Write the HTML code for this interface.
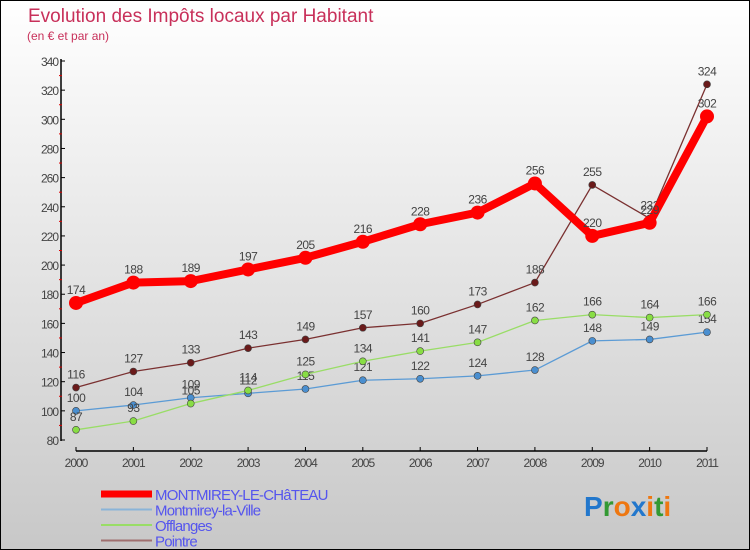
<!DOCTYPE html>
<html><head><meta charset="utf-8"><style>
body{margin:0}
#c{width:748px;height:548px;border:1px solid #000;background:linear-gradient(#fff,#c8c8c8);position:relative;font-family:"Liberation Sans",sans-serif;overflow:hidden}
</style></head><body>
<div id="c">
<svg id="s" width="748" height="548"></svg>
</div>
<script>
const years=[2000,2001,2002,2003,2004,2005,2006,2007,2008,2009,2010,2011];
const montmireyChateau=[174,188,189,197,205,216,228,236,256,220,229,302];
const montmireyVille=[100,104,109,112,115,121,122,124,128,148,149,154];
const offlanges=[87,93,105,114,125,134,141,147,162,166,164,166];
const pointre=[116,127,133,143,149,157,160,173,188,255,232,324];
const yTicks=[80,100,120,140,160,180,200,220,240,260,280,300,320,340];
const NS="http://www.w3.org/2000/svg";
const s=document.getElementById('s');
const X=i=>75+i*(706-75)/11;
const Y=v=>439-(v-80)*(439-60)/260;
function el(t,a,txt){const e=document.createElementNS(NS,t);for(const k in a)e.setAttribute(k,a[k]);if(txt!==undefined)e.textContent=txt;s.appendChild(e);return e;}
let e;
e=el('text',{x:27,y:21,fill:'#c8305a','font-size':19},'Evolution des Impôts locaux par Habitant');

e=el('text',{x:26,y:39,fill:'#c8305a','font-size':12},'(en € et par an)');

// axes
e=el('line',{x1:60,y1:58,x2:60,y2:440,stroke:'#000','stroke-width':1.5});

e=el('line',{x1:75,y1:450,x2:706,y2:450,stroke:'#000','stroke-width':1.5});

yTicks.forEach((v,i)=>{
 el('line',{x1:60,y1:Y(v),x2:64,y2:Y(v),stroke:'#000'});
 if(i<yTicks.length-1)el('line',{x1:58,y1:Y(v+10),x2:61,y2:Y(v+10),stroke:'#d00'});
 e=el('text',{x:57,y:Y(v)+5,'text-anchor':'end','font-size':12,fill:'#444','letter-spacing':'-1'},v);
 
});
years.forEach((y,i)=>{
 el('line',{x1:X(i),y1:446,x2:X(i),y2:450,stroke:'#000'});
 e=el('text',{x:X(i),y:466,'text-anchor':'middle','font-size':12,fill:'#444','letter-spacing':'-1'},y);
 
});
const series=[
 {n:'montmirey-la-ville',d:montmireyVille,c:'#5b9bd5',w:1.3,r:3.5,f:'#4a8fd0'},
 {n:'offlanges',d:offlanges,c:'#99dd66',w:1.3,r:3.5,f:'#88dd44'},
 {n:'pointre',d:pointre,c:'#7a3030',w:1.3,r:3.5,f:'#6a1a1a'},
 {n:'montmirey-le-chateau',d:montmireyChateau,c:'#ff0000',w:8,r:7,f:'#ff0000'}
];
series.forEach(sr=>{
 e=el('polyline',{points:sr.d.map((v,i)=>X(i)+','+Y(v)).join(' '),fill:'none',stroke:sr.c,'stroke-width':sr.w,'stroke-linejoin':'round'});
 
 sr.d.forEach((v,i)=>{
  e=el('circle',{cx:X(i),cy:Y(v),r:sr.r,fill:sr.f,stroke:'#444','stroke-width':sr.w>2?0:0.6});
  
  e=el('text',{x:X(i),y:Y(v)-9,'text-anchor':'middle','font-size':12,fill:'#444','letter-spacing':'-0.5'},v);
  
 });
});
// legend
const leg=[['MONTMIREY-LE-CHâTEAU','#ff0000',7],['Montmirey-la-Ville','#8ab4d8',2],['Offlanges','#99dd66',2],['Pointre','#a07070',2]];
leg.forEach((l,i)=>{
 const y=493+i*15.5;
 e=el('line',{x1:100,y1:y,x2:151,y2:y,stroke:l[1],'stroke-width':l[2]});
 
 e=el('text',{x:154,y:y+6,'font-size':15,fill:'#5555ee','letter-spacing':'-0.8'},l[0]);
 
});
e=el('text',{x:583,y:515,'font-size':28,'font-weight':'bold'});

[['P','#2277cc'],['r','#339933'],['o','#ee7711'],['x','#2277cc'],['i','#ee7711'],['t','#339933'],['i','#ee7711']].forEach(p=>{const t=document.createElementNS(NS,'tspan');t.setAttribute('fill',p[1]);t.textContent=p[0];e.appendChild(t);});
</script>
</body></html>
